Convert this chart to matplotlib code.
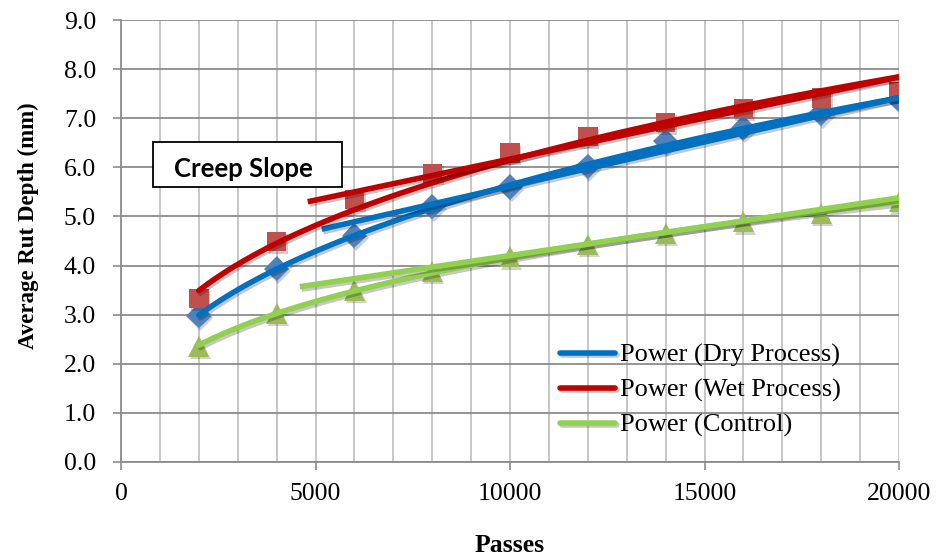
import numpy as np
import matplotlib
matplotlib.use("Agg")
import matplotlib.pyplot as plt
import matplotlib.patheffects as pe
from matplotlib.patches import Rectangle
from matplotlib.ticker import MultipleLocator, FormatStrFormatter

# Measured rut depth (mm) at each pass count
passes = [2000, 4000, 6000, 8000, 10000, 12000, 14000, 16000, 18000, 20000]
dry_process = [2.98, 3.94, 4.61, 5.20, 5.60, 6.02, 6.53, 6.80, 7.10, 7.38]
wet_process = [3.33, 4.49, 5.34, 5.88, 6.29, 6.63, 6.91, 7.20, 7.41, 7.54]
control = [2.36, 3.03, 3.50, 3.88, 4.18, 4.43, 4.66, 4.89, 5.06, 5.30]

# Creep slope lines (start / end pass count and rut depth)
creep_dry_x = [5160, 20000]
creep_dry_y = [4.74, 7.42]
creep_wet_x = [4800, 20000]
creep_wet_y = [5.30, 7.84]
creep_control_x = [4600, 20000]
creep_control_y = [3.57, 5.38]

legend_labels = ["Power (Dry Process)", "Power (Wet Process)", "Power (Control)"]

serif = ["Liberation Serif", "DejaVu Serif"]
line_shadow = [pe.SimpleLineShadow(offset=(1.2, -1.8), alpha=0.22), pe.Normal()]
marker_shadow = [pe.SimplePatchShadow(offset=(1.2, -1.8), alpha=0.22), pe.Normal()]

fig = plt.figure(figsize=(9.36, 5.57), dpi=100)
ax = fig.add_axes([0.1293, 0.1706, 0.8312, 0.7934])

x = np.array(passes, dtype=float)
series = [
    (dry_process, "D", "#4F81BD", "#0070C0", creep_dry_x, creep_dry_y, 13),
    (wet_process, "s", "#C0504D", "#C00000", creep_wet_x, creep_wet_y, 14),
    (control, "^", "#9BBB59", "#92D050", creep_control_x, creep_control_y, 15),
]

handles = []
for vals, mk, mcol, lcol, cx, cy, ms in series:
    y = np.array(vals, dtype=float)
    ax.plot(x, y, linestyle="none", marker=mk, markersize=ms, color=mcol,
            markeredgewidth=0, zorder=3, path_effects=marker_shadow)
for vals, mk, mcol, lcol, cx, cy, ms in series:
    y = np.array(vals, dtype=float)
    # power trend y = a * x**b fitted in log-log space
    b, ln_a = np.polyfit(np.log(x), np.log(y), 1)
    xs = np.linspace(x.min(), x.max(), 200)
    h, = ax.plot(xs, np.exp(ln_a) * xs ** b, color=lcol, linewidth=4,
                 solid_capstyle="round", zorder=4, path_effects=line_shadow)
    ax.plot(cx, cy, color=lcol, linewidth=4, solid_capstyle="butt",
            zorder=4, path_effects=line_shadow)
    handles.append(h)

ax.set_xlim(0, 20000)
ax.set_ylim(0, 9)
ax.xaxis.set_major_locator(MultipleLocator(5000))
ax.xaxis.set_minor_locator(MultipleLocator(1000))
ax.yaxis.set_major_locator(MultipleLocator(1.0))
ax.yaxis.set_major_formatter(FormatStrFormatter("%.1f"))

ax.grid(True, which="major", axis="y", color="#8c8c8c", linewidth=1.3)
ax.grid(True, which="both", axis="x", color="#b8b8b8", linewidth=1.1)
ax.set_axisbelow(True)

for side in ("top", "right"):
    ax.spines[side].set_visible(False)
for side in ("left", "bottom"):
    ax.spines[side].set_color("#8c8c8c")
    ax.spines[side].set_linewidth(1.3)

ax.tick_params(axis="both", which="major", direction="out", length=6,
               color="#8c8c8c", width=1.2, labelsize=18.5)
ax.tick_params(axis="y", which="major", pad=12)
ax.tick_params(axis="x", which="major", pad=9)
ax.tick_params(axis="x", which="minor", length=0)
for lab in ax.get_xticklabels() + ax.get_yticklabels():
    lab.set_family(serif)

ax.set_xlabel("Passes", fontsize=18.5, fontweight="bold", family=serif)
ax.xaxis.set_label_coords(0.5, -0.162)
ax.set_ylabel("Average Rut Depth (mm)", fontsize=16.5, fontweight="bold", family=serif)
ax.yaxis.set_label_coords(-0.106, 0.534)

ax.legend(handles, legend_labels, loc="upper left", bbox_to_anchor=(0.5643, 0.268),
          frameon=False, prop={"family": serif, "size": 19}, handlelength=2.08,
          handletextpad=0.19, labelspacing=0.42, borderaxespad=0, borderpad=0)

ax.add_patch(Rectangle((0.0407, 0.6215), 0.2433, 0.1032, transform=ax.transAxes,
                       facecolor="white", edgecolor="black", linewidth=1.3, zorder=5))
ax.text(0.1568, 0.6455, "Creep Slope", transform=ax.transAxes, fontsize=18.5,
        fontweight="bold", family=["Lato", "DejaVu Sans"], va="baseline",
        ha="center", zorder=6)

fig.savefig("out.png", dpi=100, facecolor="white")
